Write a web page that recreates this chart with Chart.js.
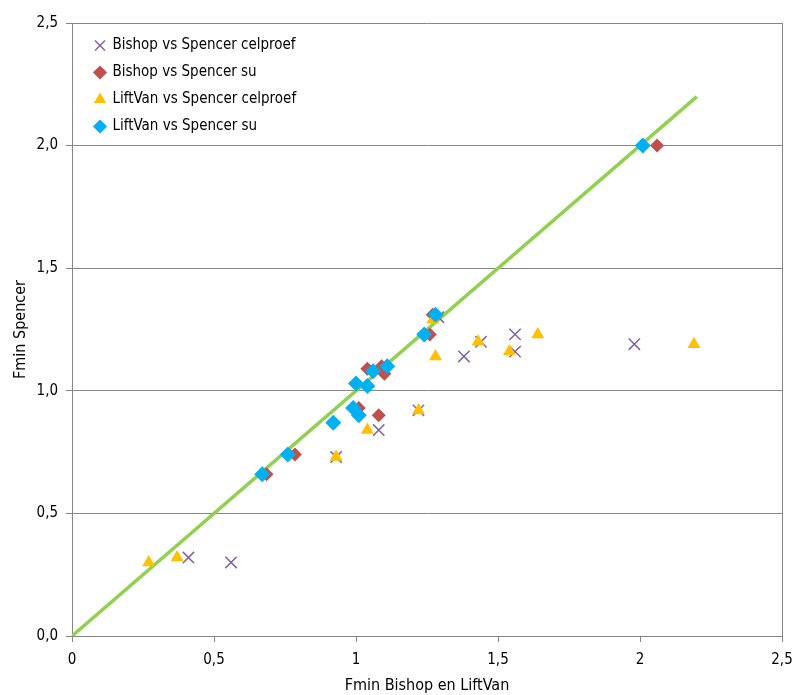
<!DOCTYPE html>
<html>
<head>
<meta charset="utf-8">
<script src="https://cdn.jsdelivr.net/npm/chart.js@4/dist/chart.umd.min.js"></script>
<style>
  html, body { margin: 0; padding: 0; background: #fff; }
  #wrap { width: 794px; height: 695px; position: relative; }
</style>
</head>
<body>
<div id="wrap"><canvas id="chart"></canvas></div>
<script>
// Series data (x = Fmin Bishop/LiftVan, y = Fmin Spencer)
const bishopCelX = [0.41, 0.56, 0.93, 1.08, 1.22, 1.29, 1.38, 1.44, 1.56, 1.56, 1.98];
const bishopCelY = [0.32, 0.30, 0.73, 0.84, 0.92, 1.30, 1.14, 1.20, 1.23, 1.16, 1.19];

const bishopSuX = [2.06, 1.27, 1.26, 1.04, 1.09, 1.10, 1.00, 1.01, 1.08, 0.785, 0.685];
const bishopSuY = [2.00, 1.31, 1.23, 1.09, 1.10, 1.07, 1.03, 0.93, 0.90, 0.74, 0.66];

const liftCelX = [0.27, 0.37, 0.93, 1.04, 1.22, 1.27, 1.28, 1.43, 1.54, 1.64, 2.19];
const liftCelY = [0.30, 0.32, 0.73, 0.84, 0.92, 1.29, 1.14, 1.20, 1.16, 1.23, 1.19];

const liftSuX = [2.01, 1.28, 1.24, 1.11, 1.06, 1.04, 1.00, 0.99, 1.01, 0.92, 0.76, 0.67];
const liftSuY = [2.00, 1.31, 1.23, 1.10, 1.08, 1.02, 1.03, 0.93, 0.90, 0.87, 0.74, 0.66];

// 1:1 reference line
const lineX = [0, 2.2];
const lineY = [0, 2.2];

const seriesNames = [
    'Bishop vs Spencer celproef',
    'Bishop vs Spencer su',
    'LiftVan vs Spencer celproef',
    'LiftVan vs Spencer su'
];

const axisTicks = [0, 0.5, 1, 1.5, 2, 2.5];

const FONT = "'Liberation Sans Narrow', 'DejaVu Sans Condensed', 'Liberation Sans', sans-serif";
const AXIS_GRAY = '#868686';

function toPoints(xs, ys) {
    return xs.map((x, i) => ({ x: x, y: ys[i] }));
}

// draw the right border of the plot area
const frameRight = {
    id: 'frameRight',
    afterDraw(chart) {
        const { ctx, chartArea } = chart;
        ctx.save();
        ctx.strokeStyle = AXIS_GRAY;
        ctx.lineWidth = 1;
        ctx.beginPath();
        ctx.moveTo(Math.round(chartArea.right) + 0.5, chartArea.top);
        ctx.lineTo(Math.round(chartArea.right) + 0.5, chartArea.bottom);
        ctx.stroke();
        ctx.restore();
    }
};

// nudge the in-plot legend away from the axes
const legendShift = {
    id: 'legendShift',
    afterLayout(chart) {
        if (chart.legend) {
            chart.legend.left += 11;
            chart.legend.top += 26;
        }
    }
};

Chart.defaults.font.family = FONT;
Chart.defaults.color = '#000';

new Chart(document.getElementById('chart'), {
    type: 'scatter',
    data: {
        datasets: [
            {
                label: seriesNames[0],
                data: toPoints(bishopCelX, bishopCelY),
                pointStyle: 'crossRot',
                pointRadius: 8,
                pointBorderWidth: 1.5,
                borderColor: '#8064A2',
                backgroundColor: '#8064A2',
                order: 3
            },
            {
                label: seriesNames[1],
                data: toPoints(bishopSuX, bishopSuY),
                pointStyle: 'rectRot',
                pointRadius: 7,
                borderWidth: 0,
                borderColor: '#C0504D',
                backgroundColor: '#C0504D',
                order: 2
            },
            {
                label: seriesNames[2],
                data: toPoints(liftCelX, liftCelY),
                pointStyle: 'triangle',
                pointRadius: 7.5,
                borderWidth: 0,
                borderColor: '#FFC000',
                backgroundColor: '#FFC000',
                order: 1
            },
            {
                label: seriesNames[3],
                data: toPoints(liftSuX, liftSuY),
                pointStyle: 'rectRot',
                pointRadius: 8,
                borderWidth: 0,
                borderColor: '#00B0F0',
                backgroundColor: '#00B0F0',
                order: 0
            },
            {
                label: 'lijn',
                data: toPoints(lineX, lineY),
                showLine: true,
                pointRadius: 0,
                borderColor: '#92D050',
                borderWidth: 3.5,
                order: 4
            }
        ]
    },
    options: {
        responsive: true,
        maintainAspectRatio: false,
        animation: false,
        layout: { padding: { top: 23, right: 12, left: 0, bottom: 0 } },
        plugins: {
            tooltip: { enabled: false },
            legend: {
                position: 'chartArea',
                align: 'start',
                labels: {
                    usePointStyle: true,
                    boxWidth: 10,
                    boxHeight: 10,
                    padding: 12,
                    font: { size: 15 },
                    color: '#000',
                    filter: (item) => item.datasetIndex < 4,
                    sort: (a, b) => a.datasetIndex - b.datasetIndex
                }
            }
        },
        scales: {
            x: {
                type: 'linear',
                min: 0,
                max: 2.5,
                afterBuildTicks: (axis) => { axis.ticks = axisTicks.map(v => ({ value: v })); },
                afterFit: (axis) => {
                    axis.height = 59;
                    axis.paddingLeft = 0;
                    axis.paddingRight = 0;
                },
                ticks: {
                    font: { size: 15 },
                    color: '#000',
                    padding: 9,
                    maxRotation: 0,
                    callback: (v) => String(v).replace('.', ',')
                },
                grid: {
                    drawOnChartArea: false,
                    drawTicks: true,
                    tickLength: 6,
                    color: AXIS_GRAY
                },
                border: { color: AXIS_GRAY, width: 1 },
                title: {
                    display: true,
                    text: 'Fmin Bishop en LiftVan',
                    font: { size: 16 },
                    color: '#000',
                    padding: { top: 0, bottom: 0 }
                }
            },
            y: {
                type: 'linear',
                min: 0,
                max: 2.5,
                afterBuildTicks: (axis) => { axis.ticks = axisTicks.map(v => ({ value: v })); },
                afterFit: (axis) => { axis.width = 72; },
                ticks: {
                    font: { size: 15 },
                    color: '#000',
                    padding: 8,
                    callback: (v) => v.toFixed(1).replace('.', ',')
                },
                grid: {
                    color: AXIS_GRAY,
                    tickLength: 6
                },
                border: { color: AXIS_GRAY, width: 1 },
                title: {
                    display: true,
                    text: 'Fmin Spencer',
                    font: { size: 16 },
                    color: '#000',
                    padding: { top: 11, bottom: 0 }
                }
            }
        }
    },
    plugins: [frameRight, legendShift]
});
</script>
</body>
</html>
